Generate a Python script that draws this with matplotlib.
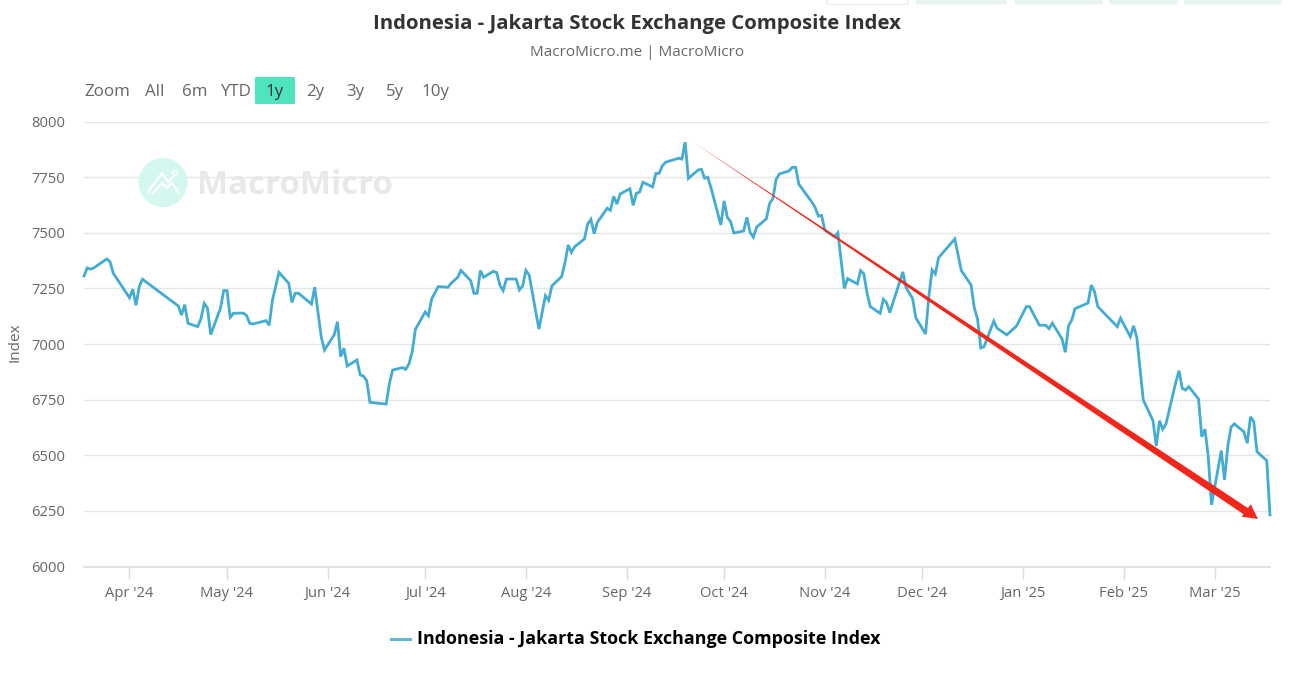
import datetime as dt
import matplotlib
matplotlib.use("Agg")
import matplotlib.pyplot as plt
import matplotlib.dates as mdates
from matplotlib.patches import Polygon, FancyBboxPatch, Circle
from matplotlib.lines import Line2D

plt.rcParams['font.family'] = ['Open Sans', 'DejaVu Sans']

START_DATE = dt.date(2024, 3, 18)
END_DATE = dt.date(2025, 3, 18)

day_offsets = [
    0, 1, 2, 3, 7, 8, 9, 14, 15, 16, 17, 18, 29, 30, 31, 32, 35, 36, 37, 38, 39, 42, 43, 44, 45, 46, 49, 50, 51, 52,
    56, 57, 58, 60, 63, 64, 65, 66, 70, 71, 72, 73, 74, 77, 78, 79, 80, 81, 84, 85, 86, 87, 88, 93, 94, 95, 98, 99,
    100, 101, 102, 105, 106, 107, 109, 112, 113, 115, 116, 119, 120, 121, 122, 123, 126, 127, 128, 129, 130, 133,
    134, 135, 136, 137, 140, 142, 143, 144, 147, 148, 149, 150, 151, 154, 155, 156, 157, 158, 161, 162, 163, 164,
    165, 168, 169, 170, 171, 172, 175, 176, 177, 178, 179, 183, 184, 185, 186, 189, 190, 191, 192, 193, 196, 197,
    198, 199, 200, 203, 204, 205, 206, 207, 210, 211, 212, 213, 214, 217, 218, 219, 220, 224, 225, 226, 227, 228,
    231, 232, 233, 234, 235, 238, 239, 240, 241, 242, 245, 246, 247, 248, 252, 253, 255, 256, 259, 260, 261, 262,
    263, 268, 270, 273, 274, 275, 276, 277, 280, 281, 284, 287, 290, 291, 294, 296, 297, 298, 301, 302, 303, 304,
    305, 309, 310, 311, 312, 318, 319, 322, 323, 324, 326, 329, 330, 331, 332, 333, 336, 337, 338, 339, 340, 343,
    344, 345, 346, 347, 350, 351, 352, 353, 354, 357, 358, 359, 360, 361, 364, 365,
]
index_values = [
    7306, 7342, 7336, 7342, 7382, 7370, 7318, 7208, 7246, 7174, 7258, 7291, 7171, 7130, 7177, 7093, 7078, 7114, 7183,
    7161, 7042, 7161, 7240, 7240, 7120, 7138, 7139, 7129, 7093, 7090, 7105, 7084, 7198, 7322, 7273, 7187, 7228, 7228,
    7180, 7255, 7145, 7033, 6973, 7041, 7100, 6943, 6981, 6901, 6928, 6861, 6856, 6835, 6738, 6730, 6823, 6883, 6894,
    6886, 6910, 6965, 7066, 7144, 7127, 7202, 7258, 7255, 7273, 7300, 7331, 7285, 7228, 7228, 7330, 7300, 7327, 7321,
    7264, 7240, 7292, 7292, 7243, 7261, 7331, 7310, 7067, 7217, 7196, 7261, 7303, 7363, 7445, 7412, 7437, 7472, 7539,
    7560, 7496, 7547, 7610, 7601, 7664, 7629, 7674, 7698, 7623, 7677, 7683, 7727, 7706, 7767, 7767, 7801, 7817, 7835,
    7831, 7907, 7744, 7782, 7785, 7745, 7749, 7700, 7535, 7643, 7569, 7550, 7499, 7508, 7569, 7502, 7480, 7525, 7563,
    7632, 7653, 7740, 7764, 7778, 7794, 7794, 7718, 7638, 7614, 7575, 7578, 7512, 7482, 7500, 7378, 7250, 7294, 7270,
    7330, 7315, 7228, 7168, 7138, 7201, 7186, 7141, 7324, 7253, 7205, 7118, 7045, 7213, 7333, 7315, 7388, 7472, 7330,
    7265, 7162, 7112, 6982, 6988, 7103, 7071, 7041, 7081, 7168, 7168, 7085, 7084, 7069, 7094, 7023, 6963, 7082, 7108,
    7159, 7184, 7265, 7235, 7168, 7078, 7116, 7033, 7082, 7030, 6748, 6655, 6542, 6655, 6617, 6641, 6828, 6880, 6801,
    6793, 6808, 6753, 6583, 6617, 6494, 6277, 6521, 6389, 6539, 6626, 6641, 6605, 6554, 6673, 6651, 6516, 6476, 6232,
]
y_ticks = [6000, 6250, 6500, 6750, 7000, 7250, 7500, 7750, 8000]
x_tick_dates = [dt.date(2024, m, 1) for m in range(4, 13)] + [dt.date(2025, m, 1) for m in range(1, 4)]
title_text = "Indonesia - Jakarta Stock Exchange Composite Index"
subtitle_text = "MacroMicro.me | MacroMicro"
y_label = "Index"
range_buttons = ["All", "6m", "YTD", "1y", "2y", "3y", "5y", "10y"]

W, H = 1290, 680
LINE = "#42acd2"
GREY = "#666666"
RED = "#f3261b"


def fx(px):
    return px / W


def fy(py):
    return 1 - py / H


fig = plt.figure(figsize=(W / 100, H / 100), dpi=100, facecolor="white")
ax = fig.add_axes([fx(84), fy(566.5), fx(1270 - 84), (566.5 - 121.5) / H])

dates = [START_DATE + dt.timedelta(days=d) for d in day_offsets]

ax.set_xlim(START_DATE, END_DATE)
ax.set_ylim(6000, 8000)
ax.set_yticks(y_ticks)
ax.set_xticks(x_tick_dates)
ax.xaxis.set_major_formatter(mdates.DateFormatter("%b '%y"))
ax.grid(axis="y", color="#e6e6e6", lw=1.0, zorder=0)
ax.set_axisbelow(True)
for s in ("top", "left", "right"):
    ax.spines[s].set_visible(False)
ax.spines["bottom"].set_color("#dcdcdc")
ax.spines["bottom"].set_linewidth(1.2)
ax.tick_params(axis="y", length=0, pad=13.7, labelsize=10.6, labelcolor=GREY)
ax.tick_params(axis="x", length=8.5, width=1.0, color="#dcdcdc", pad=5.2, labelsize=10.6, labelcolor=GREY)
ax.patch.set_alpha(0)
ax.plot(dates, index_values, color=LINE, lw=2.0, solid_joinstyle="miter", zorder=4, clip_on=False)

# header
fig.text(fx(637), fy(24.5), title_text, ha="center", va="center", fontsize=14.7, fontweight="bold", color="#333333")
fig.text(fx(637), fy(53), subtitle_text, ha="center", va="center", fontsize=10.95, color=GREY)
fig.text(fx(15), fy(342), y_label, ha="center", va="center", rotation=90, fontsize=11, color=GREY)

# range selector
fig.text(fx(84), fy(91.5), "Zoom", ha="left", va="center", fontsize=12.2, color=GREY)
btn_centres = [155, 195, 235, 275, 315, 355, 395, 435]
fig.add_artist(FancyBboxPatch((fx(255), fy(104)), fx(40), 27 / H, boxstyle="round,pad=0,rounding_size=0.002",
                              mutation_aspect=H / W, fc="#4fe3bf", ec="none", transform=fig.transFigure))
for label, cx in zip(range_buttons, btn_centres):
    fig.text(fx(cx), fy(91.5), label, ha="center", va="center", fontsize=12.2,
             color="#333333" if label == "1y" else GREY)

# clipped page buttons along the top edge
for x0, x1, fc, ec in [(827, 908, "white", "#e8e8e8"), (916, 1007, "#e8f4f2", "none"), (1015, 1103, "#e8f4f2", "none"),
                       (1109, 1178, "#e8f4f2", "none"), (1184, 1282, "#e8f4f2", "none")]:
    fig.add_artist(FancyBboxPatch((fx(x0), fy(4.5)), fx(x1 - x0), 12 / H, boxstyle="round,pad=0,rounding_size=0.003",
                                  mutation_aspect=H / W, fc=fc, ec=ec, lw=0.8, transform=fig.transFigure))

# overlay in pixel coordinates: watermark, trend arrow, legend
ov = fig.add_axes([0, 0, 1, 1], zorder=3)
ov.set_xlim(0, W)
ov.set_ylim(H, 0)
ov.axis("off")
ov.patch.set_alpha(0)
ov.add_patch(Circle((163, 182.5), 24.5, fc="#d4f7ef", ec="none", zorder=1))
ov.plot([148, 162, 168, 175], [192, 173, 182, 175], color="white", lw=1.6, zorder=2)
ov.plot([153, 162, 167, 172, 178], [193, 183, 188, 183, 192], color="white", lw=1.6, zorder=2)
ov.add_patch(Circle((175, 173), 2.2, fc="#d4f7ef", ec="white", lw=1.2, zorder=2))
ov.text(197, 185, "MacroMicro", ha="left", va="center", fontsize=23.8, fontweight="bold", color="#e6e8ea", zorder=1)

# red tapered trend arrow
sx, sy, ex, ey = 693, 142, 1250, 514
ux, uy = ex - sx, ey - sy
L = (ux ** 2 + uy ** 2) ** 0.5
nx, ny = -uy / L, ux / L
hw = 3.8
ov.add_patch(Polygon([(sx, sy), (ex + nx * hw, ey + ny * hw), (ex - nx * hw, ey - ny * hw)],
                     closed=True, fc=RED, ec="none", zorder=5))
ov.add_patch(Polygon([(1258, 519), (1250.7, 504.3), (1241.7, 516.7)], closed=True, fc=RED, ec="none", zorder=5))

# legend
ov.add_line(Line2D([391, 410], [638.5, 638.5], color="#5fb8d9", lw=2.2))
ov.text(417, 639, title_text, ha="left", va="center", fontsize=12.85, fontweight="bold", color="black")

fig.savefig("out.png", dpi=100, facecolor="white")
